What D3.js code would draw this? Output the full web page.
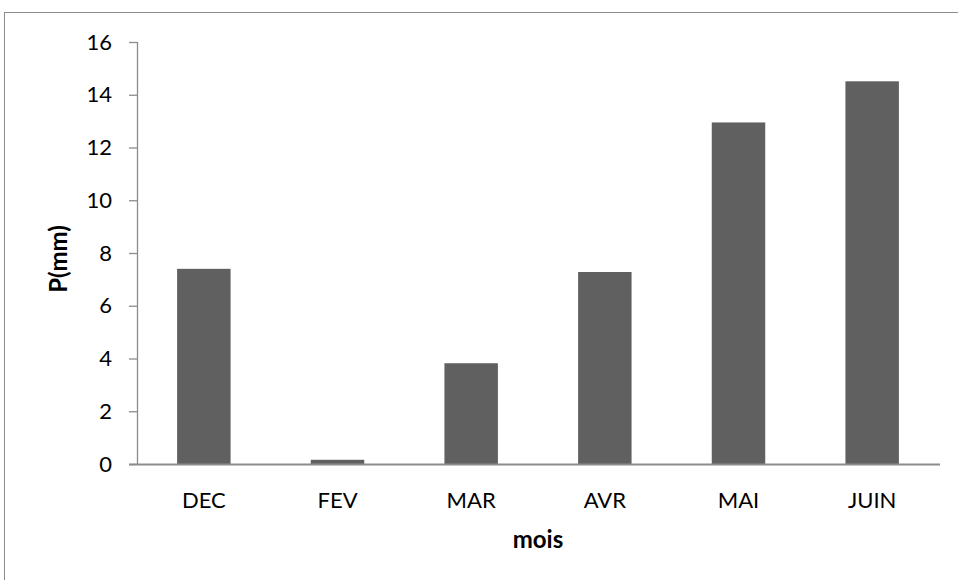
<!DOCTYPE html>
<html>
<head>
<meta charset="utf-8">
<script src="https://cdn.jsdelivr.net/npm/d3@7"></script>
<style>
  html, body { margin: 0; padding: 0; background: #fff; }
  svg { display: block; }
  text { font-family: Lato, "Open Sans", sans-serif; fill: #000; }
</style>
</head>
<body>
<svg id="chart" width="958" height="580"></svg>
<script>
const categories = ["DEC", "FEV", "MAR", "AVR", "MAI", "JUIN"];
const values = [7.40, 0.16, 3.82, 7.28, 12.95, 14.51];
const yTicks = [0, 2, 4, 6, 8, 10, 12, 14, 16];
const xTitle = "mois";
const yTitle = "P(mm)";

const svg = d3.select("#chart");
const mLeft = 137, mRight = 939, mTop = 42, mBottom = 464;

// outer frame
svg.append("rect")
  .attr("x", 4.5).attr("y", 12.5)
  .attr("width", 1000).attr("height", 1000)
  .attr("fill", "none").attr("stroke", "#8c8c8c").attr("stroke-width", 1);

const x = d3.scaleBand().domain(categories).range([mLeft, mRight]).paddingInner(0.6).paddingOuter(0.3);
const y = d3.scaleLinear().domain([0, 16]).range([mBottom, mTop]);

// bars
svg.append("g").selectAll("rect").data(values).join("rect")
  .attr("x", (d, i) => x(categories[i]))
  .attr("width", x.bandwidth())
  .attr("y", d => y(d))
  .attr("height", d => y(0) - y(d))
  .attr("fill", "#606060");

// y axis
const yAxis = d3.axisLeft(y).tickValues(yTicks).tickSize(8).tickPadding(17).tickFormat(d3.format("d"));
const gy = svg.append("g").attr("transform", `translate(${mLeft},0)`).call(yAxis);
gy.select(".domain").attr("stroke", "#8c8c8c").attr("stroke-width", 1.3).attr("d", `M0.5,${mTop}V${mBottom}`);
gy.selectAll(".tick line").attr("stroke", "#8c8c8c").attr("stroke-width", 1.3);
gy.selectAll(".tick text").attr("font-size", 22).attr("font-family", "Lato, sans-serif").attr("fill", "#000");

// x axis
const xAxis = d3.axisBottom(x).tickSize(0).tickPadding(28);
const gx = svg.append("g").attr("transform", `translate(0,${mBottom})`).call(xAxis);
gx.select(".domain").attr("stroke", "#8c8c8c").attr("stroke-width", 2).attr("d", `M${mLeft - 8},0.5H${mRight + 1}`);
gx.selectAll(".tick text").attr("font-size", 22).attr("font-family", "Lato, sans-serif").attr("fill", "#000");

// titles
svg.append("text")
  .attr("x", (mLeft + mRight) / 2).attr("y", 548)
  .attr("text-anchor", "middle")
  .attr("font-size", 24).attr("font-weight", "bold")
  .text(xTitle);

svg.append("text")
  .attr("transform", "translate(67,259) rotate(-90)")
  .attr("text-anchor", "middle")
  .attr("font-size", 24).attr("font-weight", "bold")
  .text(yTitle);
</script>
</body>
</html>
